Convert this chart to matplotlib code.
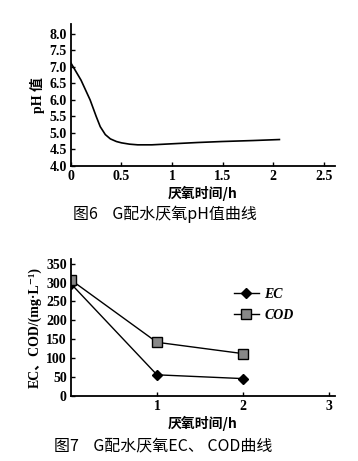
import matplotlib.pyplot as plt
import numpy as np

# pH curve
ph_time = [0, 0.1, 0.19, 0.25, 0.29, 0.34, 0.39, 0.45, 0.5, 0.58, 0.66, 0.8, 0.99, 1.25, 1.49, 1.8, 2.06]
ph_vals = [7.12, 6.6, 6.0, 5.5, 5.19, 4.95, 4.82, 4.74, 4.7, 4.66, 4.64, 4.64, 4.67, 4.71, 4.74, 4.77, 4.8]

# EC / COD (fig 7)
t_points = [0, 1, 2]
ec_vals = [297, 56, 46]
cod_vals = [307, 142, 112]

serif = ['Liberation Serif', 'DejaVu Serif', 'Noto Sans CJK SC']
cjk = ['Noto Sans CJK SC', 'DejaVu Sans']

fig = plt.figure(figsize=(3.58, 4.61), dpi=100)

def style_axes(ax):
    for s in ['top', 'right']:
        ax.spines[s].set_visible(False)
    for s in ['left', 'bottom']:
        ax.spines[s].set_linewidth(1.3)
    ax.tick_params(direction='in', length=3, width=1, pad=3)
    for lab in ax.get_xticklabels() + ax.get_yticklabels():
        lab.set_family(serif)
        lab.set_fontweight('bold')
        lab.set_fontsize(10)

# Fig 6
ax1 = fig.add_axes([0.198, 0.640, 0.738, 0.308])
ax1.plot(ph_time, ph_vals, color='black', lw=1.2)
ax1.set_xlim(0, 2.61)
ax1.set_ylim(4.0, 8.3)
ax1.set_xticks([0, 0.5, 1, 1.5, 2, 2.5])
ax1.set_xticklabels(['0', '0.5', '1', '1.5', '2', '2.5'])
ax1.set_yticks(np.arange(4.0, 8.01, 0.5))
ax1.set_yticklabels([f'{v:.1f}' for v in np.arange(4.0, 8.01, 0.5)])
style_axes(ax1)
ax1.set_xlabel('厌氧时间/h', family=cjk, fontsize=10, fontweight='bold', labelpad=2)
ax1.set_ylabel('pH 值', family=serif, fontsize=10, fontweight='bold', labelpad=3)
fig.text(0.46, 1 - 214 / 461, '图6    G配水厌氧pH值曲线', family=cjk,
         fontsize=11.5, ha='center', va='center')

# Fig 7
ax2 = fig.add_axes([0.198, 0.141, 0.738, 0.297])
ax2.plot(t_points, ec_vals, color='black', lw=1, marker='D', ms=5,
         mfc='black', label='EC')
ax2.plot(t_points, cod_vals, color='black', lw=1, marker='s', ms=7,
         mfc='#888888', mec='black', label='COD')
ax2.set_xlim(0, 3.07)
ax2.set_ylim(0, 362)
ax2.set_xticks([1, 2, 3])
ax2.set_yticks(range(0, 351, 50))
style_axes(ax2)
ax2.set_xlabel('厌氧时间/h', family=cjk, fontsize=10, fontweight='bold', labelpad=2)
ax2.set_ylabel('EC、COD/(mg·L⁻¹)', family=serif, fontsize=10,
               fontweight='bold', labelpad=3)
leg = ax2.legend(loc='upper left', bbox_to_anchor=(0.57, 0.88), frameon=False,
                 handlelength=1.8, handletextpad=0.4, labelspacing=0.6,
                 prop={'family': serif, 'style': 'italic', 'weight': 'bold',
                       'size': 10})
fig.text(0.455, 1 - 446 / 461, '图7    G配水厌氧EC、 COD曲线', family=cjk,
         fontsize=11.5, ha='center', va='center')

fig.savefig('out.png', dpi=100)
